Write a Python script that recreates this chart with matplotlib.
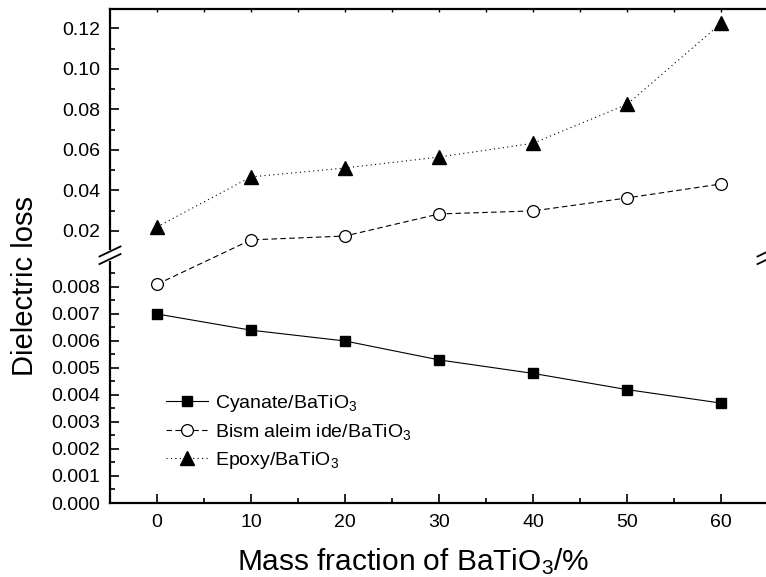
import numpy as np
import matplotlib
matplotlib.use('Agg')
import matplotlib.pyplot as plt
from matplotlib.ticker import FixedLocator, FixedFormatter

plt.rcParams['font.family'] = ['Liberation Sans', 'DejaVu Sans']
plt.rcParams['mathtext.fontset'] = 'custom'
plt.rcParams['mathtext.rm'] = 'Liberation Sans'
plt.rcParams['mathtext.it'] = 'Liberation Sans:italic'
plt.rcParams['mathtext.default'] = 'regular'

# data
mass = [0, 10, 20, 30, 40, 50, 60]
cyanate = [0.0070, 0.0064, 0.0060, 0.0053, 0.0048, 0.0042, 0.0037]
bmi = [0.0081, 0.0156, 0.0175, 0.0284, 0.0299, 0.0363, 0.0432]
epoxy = [0.0220, 0.0467, 0.0511, 0.0565, 0.0633, 0.0825, 0.1225]

labels = ['Cyanate/BaTiO$_3$', 'Bism aleim ide/BaTiO$_3$', 'Epoxy/BaTiO$_3$']

lower_ticks = [0.000, 0.001, 0.002, 0.003, 0.004, 0.005, 0.006, 0.007, 0.008]
lower_labels = ['0.000', '0.001', '0.002', '0.003', '0.004', '0.005', '0.006', '0.007', '0.008']
upper_ticks = [0.02, 0.04, 0.06, 0.08, 0.10, 0.12]
upper_labels = ['0.02', '0.04', '0.06', '0.08', '0.10', '0.12']
lower_minor = [0.0005, 0.0015, 0.0025, 0.0035, 0.0045, 0.0055, 0.0065, 0.0075, 0.0085]
upper_minor = [0.03, 0.05, 0.07, 0.09, 0.11]

# broken y axis as one piecewise-linear scale
K_LO, K_HI = 27000.0, 2025.0
BRK_LO, BRK_HI = 0.0091, 0.00701
P_BRK = BRK_LO * K_LO


def fwd(y):
    y = np.asarray(y, dtype=float)
    return np.where(y <= BRK_LO, y * K_LO, P_BRK + (y - BRK_HI) * K_HI)


def inv(p):
    p = np.asarray(p, dtype=float)
    return np.where(p <= P_BRK, p / K_LO,
                    np.maximum(BRK_HI + (p - P_BRK) / K_HI, BRK_LO))


fig = plt.figure(figsize=(7.66, 5.77), dpi=100)
W, H = 766.0, 577.0
ax = fig.add_axes([110 / W, (H - 503) / H, 658 / W, 494 / H])
ax.set_yscale('function', functions=(fwd, inv))
ax.set_xlim(-5, 65)
ax.set_ylim(0, 0.1296)

ax.plot(mass, cyanate, color='black', lw=0.8, marker='s', ms=7.5,
        mfc='black', mec='black', label=labels[0])
ax.plot(mass, bmi, color='black', lw=0.8, ls=(0, (5, 3)), marker='o', ms=8.5,
        mfc='white', mec='black', mew=0.9, label=labels[1])
ax.plot(mass, epoxy, color='black', lw=0.8, ls=(0, (1, 3)), marker='^', ms=9.5,
        mfc='black', mec='black', label=labels[2])

ax.yaxis.set_major_locator(FixedLocator(lower_ticks + upper_ticks))
ax.yaxis.set_major_formatter(FixedFormatter(lower_labels + upper_labels))
ax.yaxis.set_minor_locator(FixedLocator(lower_minor + upper_minor))
ax.set_xticks(mass)
ax.set_xticks([5, 15, 25, 35, 45, 55], minor=True)

ax.tick_params(which='both', direction='in', width=1.2, labelsize=14)
ax.tick_params(which='major', length=6.5)
ax.tick_params(which='minor', length=3.6)
ax.tick_params(axis='y', pad=7)
ax.tick_params(axis='x', pad=8)

ax.spines['right'].set_visible(False)
ax.spines['top'].set_visible(False)
for s in ['left', 'bottom']:
    ax.spines[s].set_linewidth(1.6)

sec = ax.secondary_xaxis('top')
sec.set_xticks(np.arange(0, 66, 5))
sec.tick_params(direction='in', length=2.2, width=1.0, labeltop=False)
sec.spines['top'].set_linewidth(1.6)

# break marks on the y axis
yb = (P_BRK + 2.0) / fwd(0.1296)
tr = ax.transAxes
dx, dy, gap = 10.5 / 658, 5.0 / 494, 3.8 / 494
for xs in (0.0, 1.0):
    ax.plot([xs, xs], [yb - gap - 1.5 / 494, yb + gap + 1.5 / 494], color='white',
            lw=3, transform=tr, clip_on=False, zorder=5, solid_capstyle='butt')
    for off in (-gap, gap):
        ax.plot([xs - dx, xs + dx], [yb + off - dy, yb + off + dy], color='black',
                lw=1.3, transform=tr, clip_on=False, zorder=6)

ax.set_xlabel('Mass fraction of BaTiO$_3$/%', fontsize=21.5, va='baseline')
ax.xaxis.set_label_coords((413 - 110) / 658, (503 - 570) / 494)
ax.set_ylabel('Dielectric loss', fontsize=21, va='baseline')
ax.yaxis.set_label_coords((33 - 110) / 658, (503 - 286.5) / 494)

ax.legend(loc='upper left', bbox_to_anchor=((166 - 110) / 658, (503 - 393) / 494),
          frameon=False, fontsize=14, handlelength=2.15, handletextpad=0.35,
          labelspacing=0.4, borderpad=0, borderaxespad=0)

fig.savefig('out.png', dpi=100)
